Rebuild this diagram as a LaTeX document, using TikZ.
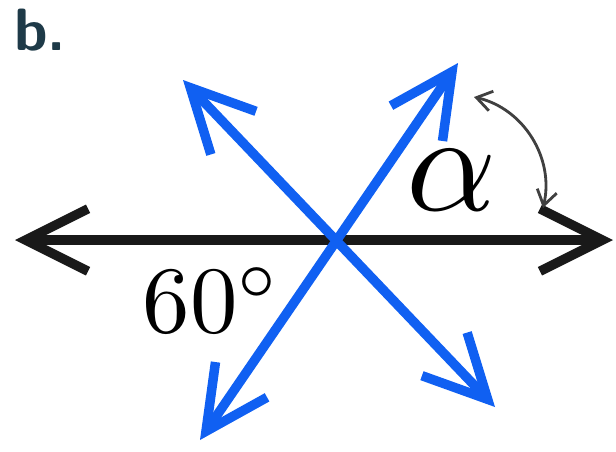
\documentclass[tikz,border=0pt]{standalone}
\usepackage{xcolor}
\usepackage{tikz}
\usetikzlibrary{arrows.meta}
\definecolor{rayblue}{HTML}{1060F2}
\definecolor{labelteal}{HTML}{1E3A48}
\tikzset{
  ray/.style={line width=5.4pt, line cap=round, line join=round, {Straight Barb[length=1.25cm,width=1.25cm]}-{Straight Barb[length=1.25cm,width=1.25cm]}},
  anglemark/.style={line width=1.6pt, black!75, {Straight Barb[length=0.3cm,width=0.4cm]}-{Straight Barb[length=0.3cm,width=0.4cm]}}
}

\begin{document}
\begin{tikzpicture}[x=0.02cm,y=-0.02cm]
\useasboundingbox (0,0) rectangle (616,451);
\coordinate (W) at (15,240);
\coordinate (E) at (613,240);
\coordinate (NE) at (458,63);
\coordinate (SW) at (200,440);
\coordinate (NW) at (183,80);
\coordinate (SE) at (495,407);
\coordinate (A) at (474,97);
\coordinate (B) at (543,208);
\draw[ray, black!90] (W) -- (E);
\draw[ray, rayblue] (SW) -- (NE);
\draw[ray, rayblue] (NW) -- (SE);
\draw[anglemark] (A) to[bend left=45] (B);
\node[scale=8] (alpha) at (452,180) {$\alpha$};
\node[scale=5.4] (sixty) at (212,300) {$60^\circ$};
\node[text=labelteal] (tag) at (40,30) {\fontsize{34}{34}\selectfont\sffamily\bfseries b.};
\end{tikzpicture}
\end{document}
